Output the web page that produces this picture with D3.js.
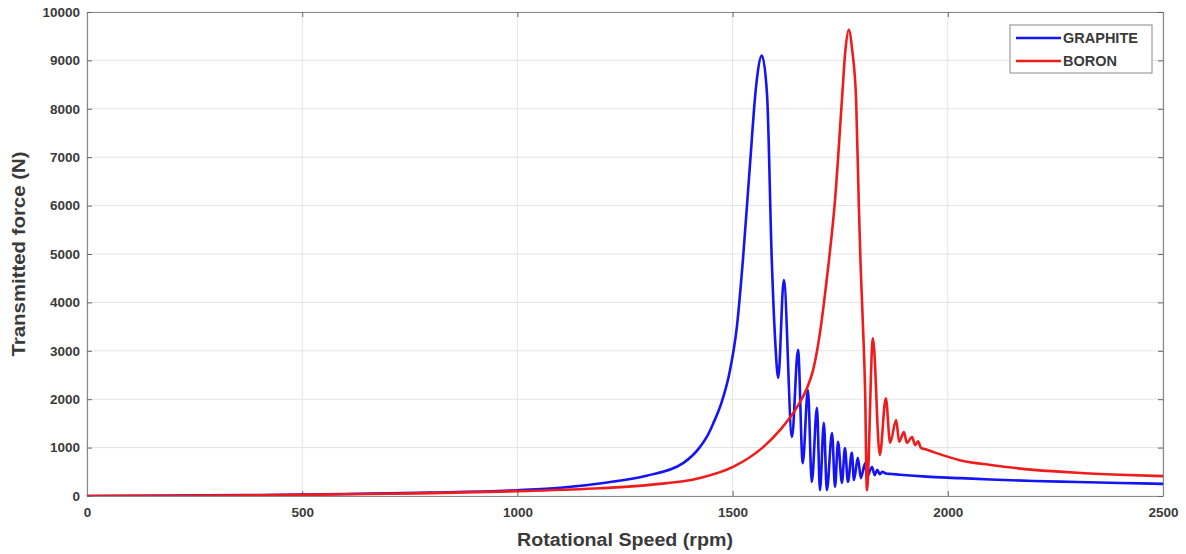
<!DOCTYPE html>
<html>
<head>
<meta charset="utf-8">
<script src="https://cdn.jsdelivr.net/npm/d3@7"></script>
<style>
  html, body { margin: 0; padding: 0; background: #fff; }
  svg { display: block; }
  text { font-family: "Liberation Sans", Arial, sans-serif; }
</style>
</head>
<body>
<svg id="chart" width="1186" height="554"></svg>
<script>
// ---- data ----
const xTicks = [0, 500, 1000, 1500, 2000, 2500];
const yTicks = [0, 1000, 2000, 3000, 4000, 5000, 6000, 7000, 8000, 9000, 10000];
const seriesNames = ["GRAPHITE", "BORON"];

const graphiteRpm = [0,200,400,600,800,1000,1100,1200,1300,1385,1424,1440,1455,1475,1494,1510,1524,1540,1555,1568,1580,1591,1599,1606,1619,1638,1652,1663,1675,1684,1696,1703,1712,1719,1731,1738,1745,1754,1761,1768,1777,1782,1791,1798,1808,1812,1824,1830,1836,1842,1848,1856,1870,1889,1950,2028,2100,2200,2300,2400,2500];
const graphiteForce = [0,8,20,40,70,120,170,270,420,680,1010,1220,1500,1950,2600,3500,4880,6800,8500,9100,8300,4880,3200,2440,4460,1220,3020,680,2190,290,1820,120,1510,120,1300,190,1120,270,990,290,890,330,790,370,680,390,600,430,540,450,500,465,455,440,400,370,340,310,290,270,250];

const boronRpm = [0,200,400,600,800,1000,1192,1308,1424,1501,1571,1610,1650,1673,1687,1703,1715,1724,1738,1754,1762,1770,1778,1787,1793,1797,1803,1808,1812,1826,1842,1856,1866,1880,1887,1898,1905,1917,1924,1931,1937,1950,1966,2028,2100,2200,2300,2400,2500];
const boronForce = [0,5,15,35,60,100,160,230,370,600,1010,1360,1840,2230,2600,3370,4190,4880,6115,8180,9200,9630,9200,8180,6100,4880,3490,2130,120,3260,850,2020,1100,1570,1120,1320,1100,1220,1050,1130,1000,960,910,740,640,540,480,440,410];

const colors = ["#1414f5", "#f01c1c"];

// ---- layout ----
const svg = d3.select("#chart");
const m = { left: 87, top: 12, right: 23, bottom: 58 };
const W = 1186 - m.left - m.right;
const H = 554 - m.top - m.bottom;

const x = d3.scaleLinear().domain([0, 2500]).range([0, W]);
const y = d3.scaleLinear().domain([0, 10000]).range([H, 0]);

const g = svg.append("g").attr("transform", `translate(${m.left},${m.top})`);

// grid
g.append("g").selectAll("line").data(xTicks).join("line")
  .attr("x1", d => x(d)).attr("x2", d => x(d)).attr("y1", 0).attr("y2", H)
  .attr("stroke", "#e4e4e4").attr("stroke-width", 1);
g.append("g").selectAll("line").data(yTicks).join("line")
  .attr("y1", d => y(d)).attr("y2", d => y(d)).attr("x1", 0).attr("x2", W)
  .attr("stroke", "#e4e4e4").attr("stroke-width", 1);

// axes (ticks inward)
const tickFmt = d3.format("d");
const xAxis = g.append("g").attr("transform", `translate(0,${H})`)
  .call(d3.axisBottom(x).tickValues(xTicks).tickFormat(tickFmt).tickSizeInner(-5).tickSizeOuter(0).tickPadding(11));
const xTop = g.append("g")
  .call(d3.axisTop(x).tickValues(xTicks).tickFormat("").tickSizeInner(-5).tickSizeOuter(0));
const yAxis = g.append("g")
  .call(d3.axisLeft(y).tickValues(yTicks).tickFormat(tickFmt).tickSizeInner(-5).tickSizeOuter(0).tickPadding(7));
const yRight = g.append("g").attr("transform", `translate(${W},0)`)
  .call(d3.axisRight(y).tickValues(yTicks).tickFormat("").tickSizeInner(-5).tickSizeOuter(0));

[xAxis, xTop, yAxis, yRight].forEach(a => {
  a.select(".domain").attr("stroke", "#8a8a8a").attr("stroke-width", 1.2);
  a.selectAll(".tick line").attr("stroke", "#666");
  a.selectAll(".tick text").attr("fill", "#3a3a3a").attr("font-size", 13.5).attr("font-weight", "bold")
    .style("font-family", "'Liberation Sans', Arial, sans-serif");
});

// lines
const line = d3.line().x(d => x(d[0])).y(d => y(d[1])).curve(d3.curveMonotoneX);
const series = [
  d3.zip(graphiteRpm, graphiteForce),
  d3.zip(boronRpm, boronForce)
];
g.append("defs").append("clipPath").attr("id", "clip")
  .append("rect").attr("x", 0).attr("y", -2).attr("width", W).attr("height", H + 2);
g.append("g").attr("clip-path", "url(#clip)").selectAll("path").data(series).join("path")
  .attr("d", line).attr("fill", "none")
  .attr("stroke", (d, i) => colors[i]).attr("stroke-width", 2.6)
  .attr("stroke-linejoin", "round");

// axis titles
svg.append("text").attr("x", m.left + W / 2).attr("y", 546)
  .attr("text-anchor", "middle").attr("font-size", 17.5).attr("font-weight", "bold").attr("fill", "#3a3a3a")
  .attr("textLength", 216).attr("lengthAdjust", "spacingAndGlyphs")
  .text("Rotational Speed (rpm)");
svg.append("text").attr("transform", `translate(25,${m.top + H / 2}) rotate(-90)`)
  .attr("text-anchor", "middle").attr("font-size", 17.5).attr("font-weight", "bold").attr("fill", "#3a3a3a")
  .attr("textLength", 205).attr("lengthAdjust", "spacingAndGlyphs")
  .text("Transmitted force (N)");

// legend
const lg = svg.append("g").attr("transform", "translate(1010,25)");
lg.append("rect").attr("width", 142).attr("height", 48).attr("fill", "#fff")
  .attr("stroke", "#8a8a8a").attr("stroke-width", 1);
seriesNames.forEach((name, i) => {
  const yy = 13 + i * 23;
  lg.append("line").attr("x1", 6).attr("x2", 51).attr("y1", yy).attr("y2", yy)
    .attr("stroke", colors[i]).attr("stroke-width", 2.6);
  lg.append("text").attr("x", 53).attr("y", yy + 5).attr("font-size", 14.5).attr("font-weight", "bold")
    .attr("fill", "#3a3a3a").text(name);
});
</script>
</body>
</html>
